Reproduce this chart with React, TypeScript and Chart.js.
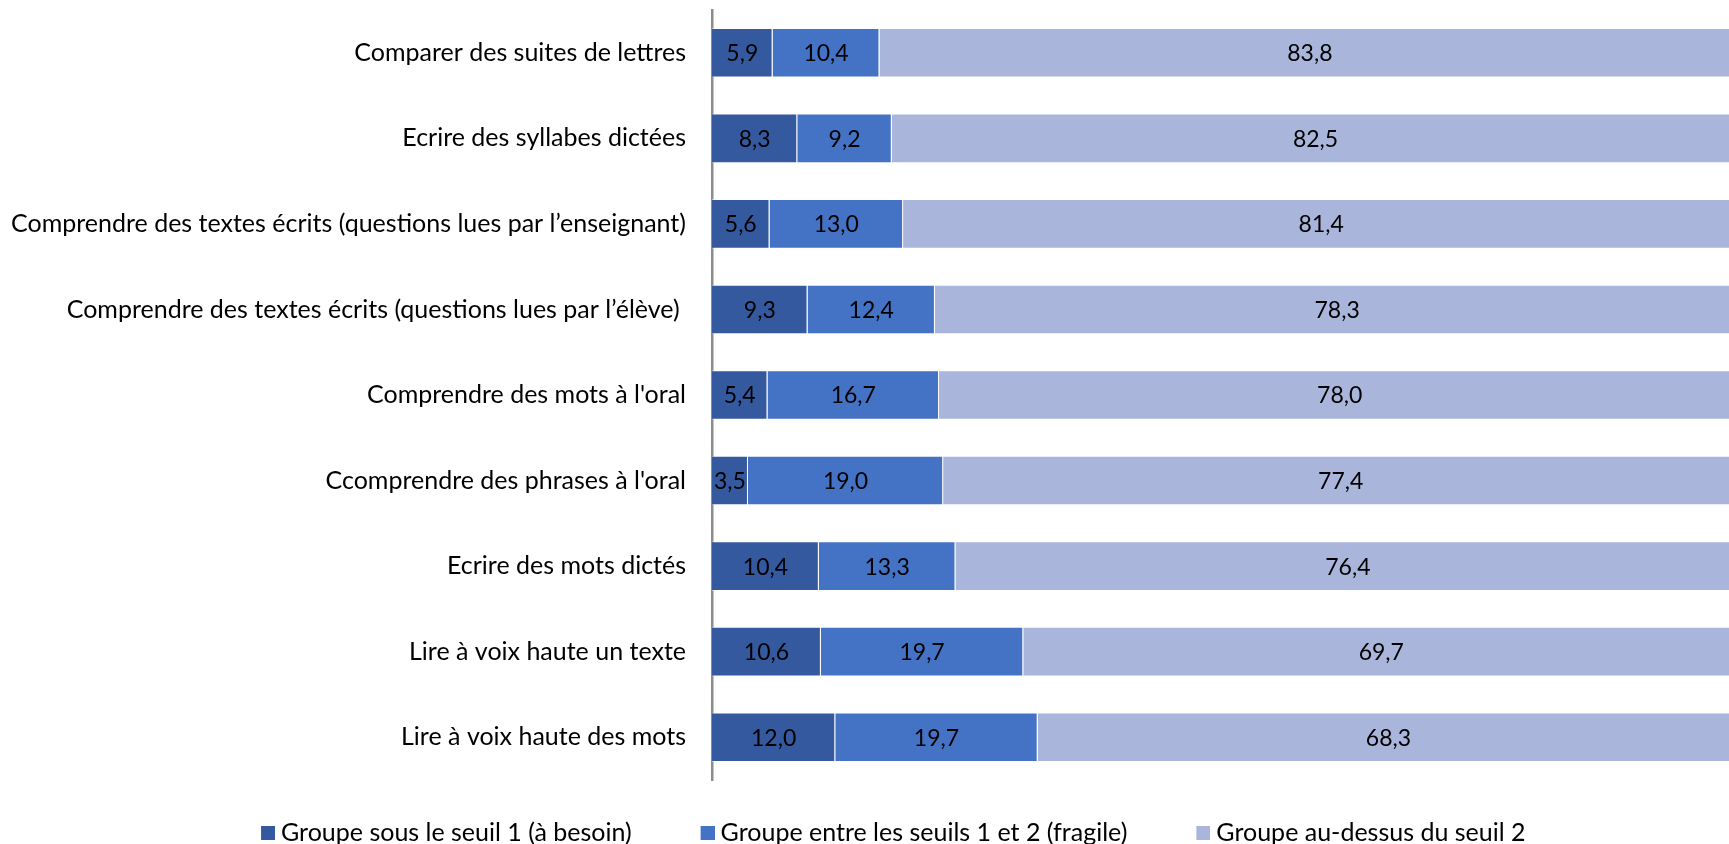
import React, { useEffect, useRef } from "react";
import { Chart, registerables } from "chart.js";

Chart.register(...registerables);

const categories: string[] = [
  "Comparer des suites de lettres",
  "Ecrire des syllabes dictées",
  "Comprendre des textes écrits (questions lues par l’enseignant)",
  "Comprendre des textes écrits (questions lues par l’élève) ",
  "Comprendre des mots à l'oral",
  "Ccomprendre des phrases à l'oral",
  "Ecrire des mots dictés",
  "Lire à voix haute un texte",
  "Lire à voix haute des mots",
];

const seriesNames: string[] = [
  "Groupe sous le seuil 1 (à besoin)",
  "Groupe entre les seuils 1 et 2 (fragile)",
  "Groupe au-dessus du seuil 2",
];

const besoin: number[] = [5.9, 8.3, 5.6, 9.3, 5.4, 3.5, 10.4, 10.6, 12.0];
const fragile: number[] = [10.4, 9.2, 13.0, 12.4, 16.7, 19.0, 13.3, 19.7, 19.7];
const auDessus: number[] = [83.8, 82.5, 81.4, 78.3, 78.0, 77.4, 76.4, 69.7, 68.3];

const colors: string[] = ["#35599F", "#4472C4", "#A9B5DA"];

const FONT = "Lato";

// legend marker: square placed at the right end of a wider transparent canvas
function makeMarker(color: string): HTMLCanvasElement {
  const c = document.createElement("canvas");
  c.width = 49;
  c.height = 14;
  const g = c.getContext("2d")!;
  g.fillStyle = color;
  g.fillRect(35, 0, 14, 14);
  return c;
}

const valueLabels = {
  id: "valueLabels",
  afterDatasetsDraw(chart: any) {
    const ctx = chart.ctx;
    ctx.save();
    ctx.font = `23px ${FONT}`;
    ctx.fillStyle = "#000";
    ctx.textAlign = "center";
    ctx.textBaseline = "middle";
    chart.data.datasets.forEach((ds: any, di: number) => {
      const meta = chart.getDatasetMeta(di);
      meta.data.forEach((el: any, i: number) => {
        const { x, base, y } = el.getProps(["x", "base", "y"], true);
        const v = ds.data[i] as number;
        ctx.fillText(v.toFixed(1).replace(".", ","), (x + base) / 2, y + 1);
      });
    });
    ctx.restore();
  },
};

export default function App() {
  const ref = useRef<HTMLCanvasElement | null>(null);

  useEffect(() => {
    if (!ref.current) return;
    const data = [besoin, fragile, auDessus];
    const markers = colors.map(makeMarker);
    const chart = new Chart(ref.current, {
      type: "bar",
      data: {
        labels: categories,
        datasets: seriesNames.map((name, i) => ({
          label: name,
          data: data[i],
          backgroundColor: colors[i],
          borderColor: "rgba(255,255,255,0.45)",
          borderWidth: 1,
          categoryPercentage: 1,
          barPercentage: 0.58,
        })),
      },
      options: {
        indexAxis: "y",
        animation: false,
        responsive: true,
        maintainAspectRatio: false,
        layout: { padding: { top: 10, left: 0, right: -29, bottom: -11.5 } },
        scales: {
          x: {
            stacked: true,
            min: 0,
            max: 99,
            display: false,
          },
          y: {
            stacked: true,
            grid: { display: false, drawTicks: false },
            border: { display: true, color: "#8C8C8C", width: 2.5 },
            ticks: {
              color: "#000",
              padding: 26,
              font: { family: FONT, size: 25 },
            },
            afterFit(scale: any) {
              scale.width = 712;
              scale.paddingTop = 0;
              scale.paddingBottom = 0;
            },
          },
        },
        plugins: {
          tooltip: { enabled: false },
          legend: {
            position: "bottom",
            labels: {
              color: "#000",
              usePointStyle: true,
              pointStyleWidth: 36,
              boxHeight: 14,
              padding: 40.5,
              font: { family: FONT, size: 25 },
              generateLabels(chart: any) {
                const items = Chart.defaults.plugins.legend.labels.generateLabels(chart);
                return items.map((it: any, i: number) => ({ ...it, pointStyle: markers[i] }));
              },
            },
          },
        },
      },
      plugins: [valueLabels],
    });
    return () => chart.destroy();
  }, []);

  return (
    <div style={{ position: "absolute", left: 0, top: 0, width: 1729, height: 844, background: "#fff" }}>
      <canvas ref={ref} />
    </div>
  );
}
